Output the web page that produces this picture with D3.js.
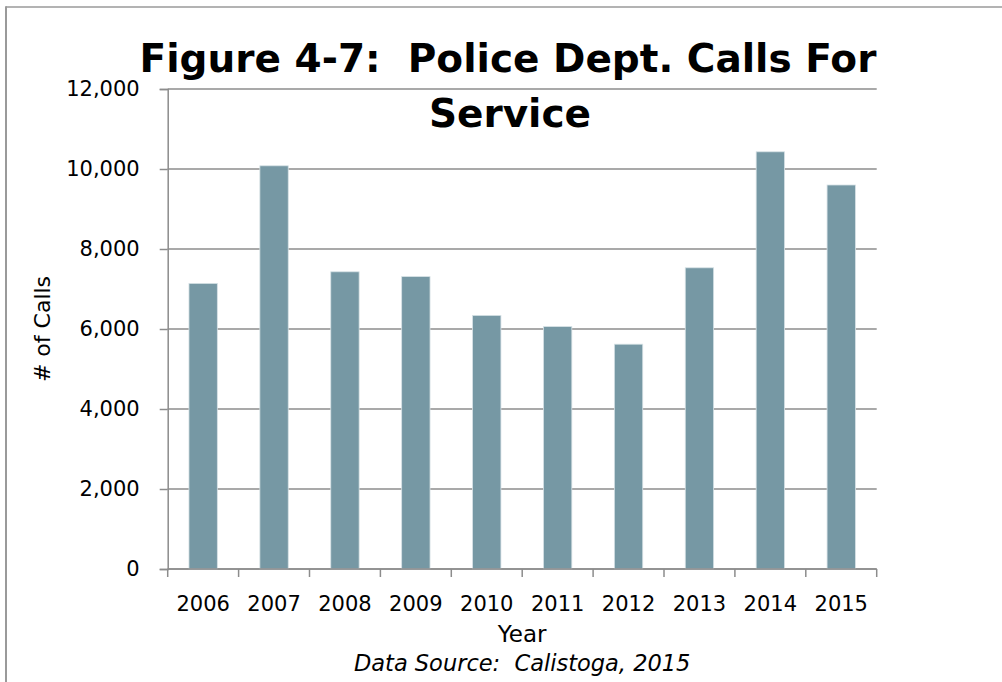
<!DOCTYPE html>
<html>
<head>
<meta charset="utf-8">
<script src="https://cdn.jsdelivr.net/npm/d3@7/dist/d3.min.js"></script>
<style>
  html, body { margin: 0; padding: 0; background: #fff; }
  svg { display: block; }
  text { font-family: "DejaVu Sans", Verdana, sans-serif; fill: #000; white-space: pre; }
</style>
</head>
<body>
<svg id="chart" width="1002" height="682"></svg>
<script>
// Annual calls for service, Calistoga Police Dept.
const years = ["2006", "2007", "2008", "2009", "2010", "2011", "2012", "2013", "2014", "2015"];
const calls = [7140, 10080, 7430, 7310, 6340, 6060, 5620, 7530, 10430, 9600];
const yTicks = [0, 2000, 4000, 6000, 8000, 10000, 12000];
const titleLines = ["Figure 4-7:  Police Dept. Calls For", "Service"];
const yTitle = "# of Calls";
const xTitle = "Year";
const sourceNote = "Data Source:  Calistoga, 2015";

const svg = d3.select("#chart");
const W = 1002, H = 682;
const plot = { left: 167.7, right: 876.7, top: 89, bottom: 569 };
const gridColor = "#8c8c8c";
const barColor = "#7698a4";

// outer frame (top and left edges only)
svg.append("line").attr("x1", 6).attr("x2", W).attr("y1", 7).attr("y2", 7)
  .attr("stroke", "#9a9a9a").attr("stroke-width", 1.5);
svg.append("line").attr("x1", 6).attr("x2", 6).attr("y1", 6.3).attr("y2", H)
  .attr("stroke", "#9a9a9a").attr("stroke-width", 2);

const x = d3.scaleBand()
  .domain(years)
  .range([plot.left, plot.right])
  .paddingInner(0.6)
  .paddingOuter(0.3);

const y = d3.scaleLinear()
  .domain([0, 12000])
  .range([plot.bottom, plot.top]);

// horizontal gridlines
svg.append("g")
  .selectAll("line")
  .data(yTicks)
  .join("line")
  .attr("x1", plot.left).attr("x2", plot.right)
  .attr("y1", d => y(d)).attr("y2", d => y(d))
  .attr("stroke", gridColor).attr("stroke-width", 1.5);

// bars
svg.append("g")
  .selectAll("rect")
  .data(years.map((yr, i) => ({ yr, v: calls[i] })))
  .join("rect")
  .attr("x", d => x(d.yr))
  .attr("y", d => y(d.v))
  .attr("width", x.bandwidth())
  .attr("height", d => y(0) - y(d.v))
  .attr("fill", barColor)
  .attr("stroke", "#d6e1e5")
  .attr("stroke-width", 0.8);

// y axis
const yAxis = svg.append("g")
  .attr("transform", `translate(${plot.left},0)`)
  .call(d3.axisLeft(y).tickValues(yTicks).tickSize(8).tickPadding(20)
    .tickFormat(d3.format(",")));
yAxis.select(".domain").attr("stroke", gridColor).attr("stroke-width", 1.5);
yAxis.selectAll(".tick line").attr("stroke", gridColor).attr("stroke-width", 1.5);
yAxis.selectAll(".tick text")
  .attr("font-family", "DejaVu Sans")
  .attr("font-size", 21)
  .attr("fill", "#000");

// x axis: boundary ticks between categories
const xAxisG = svg.append("g");
xAxisG.append("line")
  .attr("x1", plot.left).attr("x2", plot.right)
  .attr("y1", plot.bottom).attr("y2", plot.bottom)
  .attr("stroke", gridColor).attr("stroke-width", 1.5);
const step = x.step();
const edges = d3.range(years.length + 1).map(i => plot.left + i * step);
xAxisG.selectAll("line.edge")
  .data(edges)
  .join("line")
  .attr("class", "edge")
  .attr("x1", d => d).attr("x2", d => d)
  .attr("y1", plot.bottom).attr("y2", plot.bottom + 8)
  .attr("stroke", gridColor).attr("stroke-width", 1.5);
xAxisG.selectAll("text")
  .data(years)
  .join("text")
  .attr("x", d => x(d) + x.bandwidth() / 2)
  .attr("y", 611)
  .attr("text-anchor", "middle")
  .attr("font-size", 21)
  .text(d => d);

// titles
const cx = (plot.left + plot.right) / 2;
svg.append("text")
  .attr("x", 508).attr("y", 72)
  .attr("text-anchor", "middle")
  .attr("font-size", 39).attr("font-weight", "bold")
  .text(titleLines[0]);
svg.append("text")
  .attr("x", 510).attr("y", 127)
  .attr("text-anchor", "middle")
  .attr("font-size", 39).attr("font-weight", "bold")
  .text(titleLines[1]);

svg.append("text")
  .attr("transform", `translate(50,${(plot.top + plot.bottom) / 2}) rotate(-90)`)
  .attr("text-anchor", "middle")
  .attr("font-size", 22)
  .text(yTitle);

svg.append("text")
  .attr("x", cx).attr("y", 642)
  .attr("text-anchor", "middle")
  .attr("font-size", 23)
  .text(xTitle);

svg.append("text")
  .attr("x", cx).attr("y", 671)
  .attr("text-anchor", "middle")
  .attr("font-size", 22.5).attr("font-style", "italic")
  .text(sourceNote);
</script>
</body>
</html>
